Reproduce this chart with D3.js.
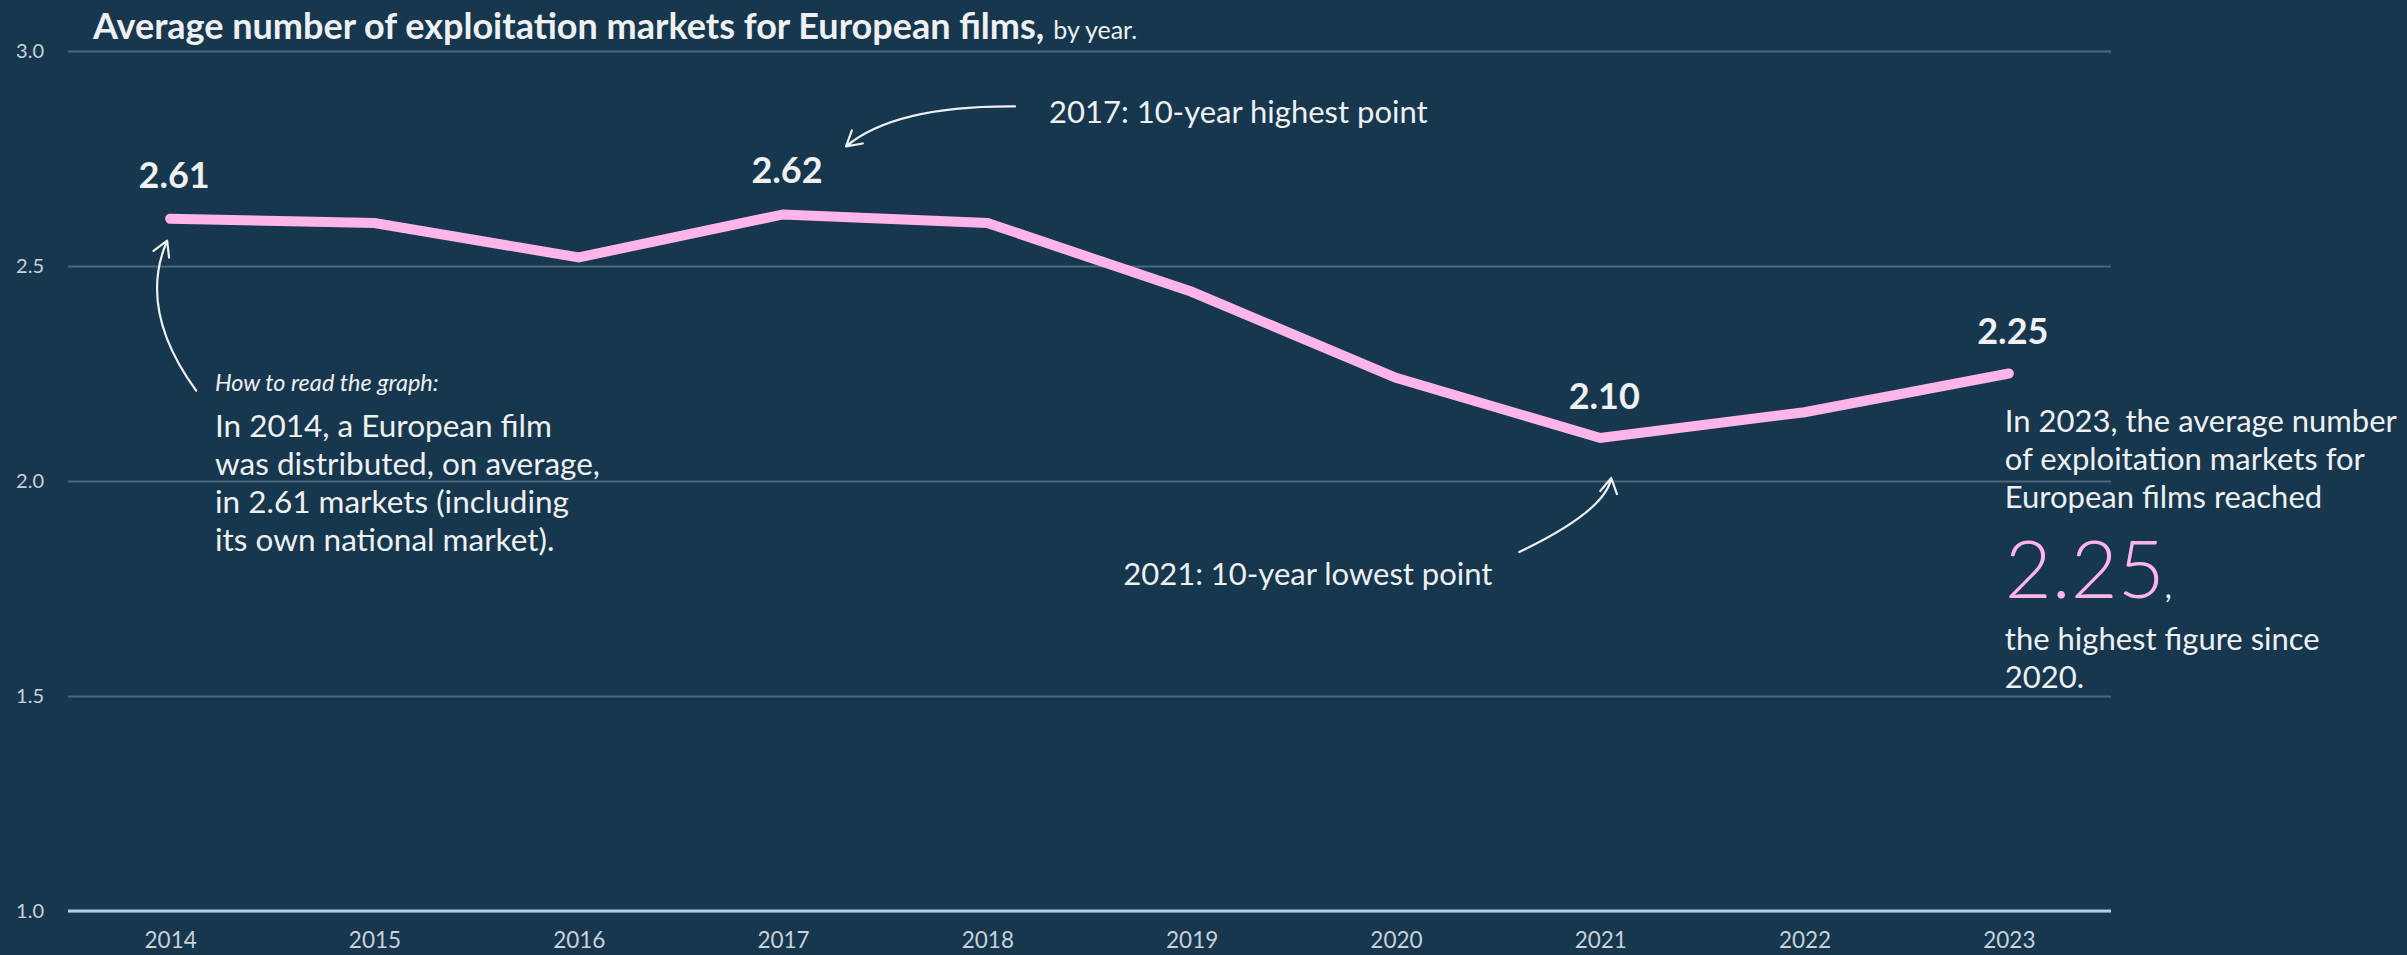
<!DOCTYPE html>
<html lang="en">
<head>
<meta charset="UTF-8">
<title>European films - exploitation markets</title>
<script src="https://d3js.org/d3.v7.min.js"></script>
<style>
  body { margin: 0; background: #17374f; }
  svg { display: block; font-family: Lato, "Noto Sans", sans-serif; }
</style>
</head>
<body>
<svg id="chart" width="2407" height="955"></svg>
<script>
// data
const years = [2014, 2015, 2016, 2017, 2018, 2019, 2020, 2021, 2022, 2023];
const markets = [2.61, 2.60, 2.52, 2.62, 2.60, 2.44, 2.24, 2.10, 2.16, 2.25];
const yTicks = [1.0, 1.5, 2.0, 2.5, 3.0];
const labelled = [2014, 2017, 2021, 2023];

const W = 2407, H = 955;
const mLeft = 68, mRight = 2111, mTop = 51, mBottom = 911;
const textCol = "#eef0f2";

const svg = d3.select("#chart");
svg.append("rect").attr("width", W).attr("height", H).attr("fill", "#17374f");

const x = d3.scalePoint().domain(years).range([mLeft, mRight]).padding(0.5);
const y = d3.scaleLinear().domain([1, 3]).range([mBottom, mTop]);

// gridlines + y labels
const gy = svg.append("g")
  .attr("transform", `translate(${mLeft},0)`)
  .call(d3.axisLeft(y).tickValues(yTicks).tickFormat(d3.format(".1f"))
    .tickSize(-(mRight - mLeft)).tickPadding(24));
gy.select(".domain").remove();
gy.selectAll("line").attr("stroke", "#4d687e").attr("stroke-width", 2);
gy.selectAll("text").attr("fill", "#c9d1d9").attr("font-size", 20)
  .attr("font-family", "Lato, sans-serif");

// baseline
svg.append("line")
  .attr("x1", mLeft).attr("x2", mRight).attr("y1", y(1)).attr("y2", y(1))
  .attr("stroke", "#a9cfea").attr("stroke-width", 3);

// x axis labels
const gx = svg.append("g")
  .attr("transform", `translate(0,${y(1)})`)
  .call(d3.axisBottom(x).tickSize(0).tickPadding(21));
gx.select(".domain").remove();
gx.selectAll("text").attr("fill", "#c9d1d9").attr("font-size", 22.5)
  .attr("font-family", "Lato, sans-serif");

// line
const line = d3.line().x((d, i) => x(years[i])).y(d => y(d));
svg.append("path")
  .datum(markets)
  .attr("d", line)
  .attr("fill", "none")
  .attr("stroke", "#ffb5ea")
  .attr("stroke-width", 10)
  .attr("stroke-linecap", "round")
  .attr("stroke-linejoin", "miter");

// value labels
const offs = { 2014: 31, 2017: 31, 2021: 29, 2023: 30 };
svg.selectAll(".val")
  .data(labelled)
  .join("text")
  .attr("class", "val")
  .attr("x", d => x(d) + 4)
  .attr("y", d => y(markets[years.indexOf(d)]) - offs[d])
  .attr("text-anchor", "middle")
  .attr("font-size", 36)
  .attr("font-weight", "bold")
  .attr("fill", textCol)
  .text(d => markets[years.indexOf(d)].toFixed(2));

// title
const title = svg.append("text").attr("x", 93).attr("y", 39).attr("fill", textCol);
title.append("tspan").attr("font-size", 36).attr("font-weight", "bold")
  .text("Average number of exploitation markets for European films,");
title.append("tspan").attr("font-size", 25).attr("dx", 9)
  .text("by year.");

// curved arrows
function arrow(p0, c, p2) {
  const p = d3.path();
  p.moveTo(p0[0], p0[1]);
  p.quadraticCurveTo(c[0], c[1], p2[0], p2[1]);
  const a = Math.atan2(p2[1] - c[1], p2[0] - c[0]);
  const len = 17, spread = Math.PI / 6;
  p.moveTo(p2[0] - len * Math.cos(a - spread), p2[1] - len * Math.sin(a - spread));
  p.lineTo(p2[0], p2[1]);
  p.lineTo(p2[0] - len * Math.cos(a + spread), p2[1] - len * Math.sin(a + spread));
  svg.append("path").attr("d", p.toString())
    .attr("fill", "none").attr("stroke", textCol).attr("stroke-width", 2.2)
    .attr("stroke-linecap", "round").attr("stroke-linejoin", "round");
}

const x14 = x(2014), y14 = y(markets[0]);
arrow([x14 + 26, y14 + 172], [x14 - 33, y14 + 91], [x14 - 3, y14 + 22]);

const x17 = x(2017), y17 = y(markets[3]);
arrow([x17 + 232, y17 - 108], [x17 + 112, y17 - 109], [x17 + 63, y17 - 68]);

const x21 = x(2021), y21 = y(markets[7]);
arrow([x21 - 81, y21 + 114], [x21 + 5, y21 + 73], [x21 + 11, y21 + 40]);

// annotations
function textBlock(x0, y0, lh, lines, size, opts = {}) {
  const t = svg.append("text").attr("x", x0).attr("y", y0)
    .attr("font-size", size).attr("fill", textCol);
  if (opts.italic) t.attr("font-style", "italic");
  lines.forEach((s, i) => {
    t.append("tspan").attr("x", x0).attr("dy", i === 0 ? 0 : lh).text(s);
  });
  return t;
}

textBlock(x17 + 266, 123, 0, ["2017: 10-year highest point"], 31);
textBlock(x21 - 477, 585, 0, ["2021: 10-year lowest point"], 31);

textBlock(215, 391, 0, ["How to read the graph:"], 23.5, { italic: true });
textBlock(215, 437, 38, [
  "In 2014, a European film",
  "was distributed, on average,",
  "in 2.61 markets (including",
  "its own national market)."
], 31.5);

const xr = x(2023) - 4;
textBlock(xr, 432, 38, [
  "In 2023, the average number",
  "of exploitation markets for",
  "European films reached"
], 31);
const big = svg.append("text").attr("x", xr).attr("y", 598).attr("fill", textCol);
big.append("tspan").attr("font-size", 81).attr("font-weight", 300)
  .attr("fill", "#ffb5ea").text(markets[9].toFixed(2));
big.append("tspan").attr("font-size", 31).text(",");
textBlock(xr, 650, 38, ["the highest figure since", "2020."], 31);
</script>
</body>
</html>
